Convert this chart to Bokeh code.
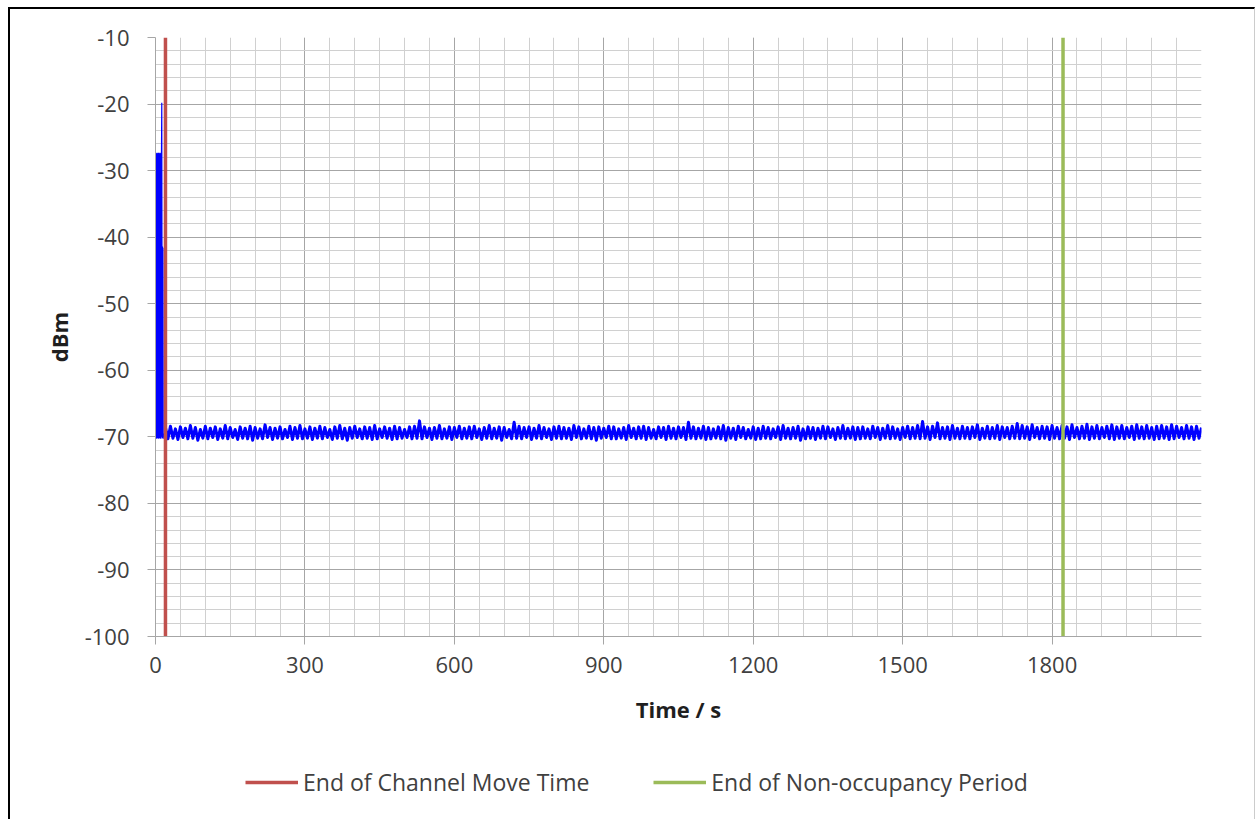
import numpy as np
from bokeh.plotting import figure
from bokeh.layouts import column
from bokeh.models import FixedTicker, Range1d, Legend, LegendItem
from bokeh.embed import file_html
from bokeh.resources import INLINE

# ---- data ----
x_ticks = [0, 300, 600, 900, 1200, 1500, 1800]
y_ticks = [-100, -90, -80, -70, -60, -50, -40, -30, -20, -10]
x_max = 2100
y_min, y_max = -100, -10

channel_move_end = 20      # s, red marker
non_occupancy_end = 1822   # s, green marker

# initial burst while the radar is still present (s, dBm)
burst_t = [0.5, 1.0, 1.5, 2.0, 2.5, 3.0, 3.5, 4.0, 4.5, 5.0, 5.5, 6.0, 6.5, 7.0, 7.5,
           8.0, 8.5, 9.0, 9.5, 10.0, 10.5, 11.0, 11.5, 12.0, 12.6, 13.0, 13.5, 14.0,
           14.5, 15.0, 15.5, 16.0]
burst_dbm = [-70.2, -27.4, -70.1, -27.5, -70.3, -27.3, -70.0, -27.4, -70.2, -27.5, -70.1,
             -27.3, -70.3, -27.4, -70.0, -27.5, -70.2, -27.3, -70.1, -27.4, -70.3, -27.5,
             -70.0, -27.4, -19.8, -41.5, -70.2, -41.4, -70.1, -41.6, -70.3, -69.5]

# noise floor after the channel move, sampled every 5 s from 20 s to 2100 s
noise_t0, noise_dt = 20, 5
noise_dbm = [
    -68.6, -70.3, -68.4, -70.2, -68.8, -70.4, -68.5, -70.1, -68.7, -70.3, -68.3, -70.2, -68.6, -70.5, -68.9, -70.2, -68.4, -70.3, -68.7, -70.1,
    -68.5, -70.4, -68.8, -70.2, -68.3, -70.3, -68.6, -70.1, -68.9, -70.4, -68.5, -70.2, -68.7, -70.3, -68.4, -70.5, -68.6, -70.2, -68.8, -70.3,
    -68.2, -70.1, -68.6, -70.4, -68.7, -70.2, -68.5, -70.3, -68.9, -70.1, -68.4, -70.4, -68.6, -70.2, -68.3, -70.3, -68.8, -70.2, -68.5, -70.4,
    -68.7, -70.2, -68.4, -70.3, -68.6, -70.1, -68.9, -70.4, -68.5, -70.2, -68.3, -70.3, -68.7, -70.5, -68.6, -70.2, -68.4, -70.1, -68.8, -70.3,
    -68.5, -70.2, -68.6, -70.4, -68.3, -70.3, -68.8, -70.1, -68.5, -70.2, -68.7, -70.4, -68.4, -70.3, -68.6, -70.2, -68.9, -70.1, -68.5, -70.3,
    -68.4, -70.2, -67.6, -70.3, -68.5, -70.1, -68.7, -70.4, -68.6, -70.2, -68.3, -70.3, -68.8, -70.2, -68.5, -70.4, -68.6, -70.1, -68.4, -70.3,
    -68.7, -70.2, -68.5, -70.3, -68.4, -70.1, -68.8, -70.4, -68.6, -70.2, -68.3, -70.3, -68.7, -70.2, -68.5, -70.5, -68.6, -70.1, -68.9, -70.3,
    -67.8, -70.2, -68.4, -70.3, -68.6, -70.1, -68.5, -70.4, -68.7, -70.2, -68.3, -70.3, -68.6, -70.1, -68.8, -70.4, -68.5, -70.2, -68.4, -70.3,
    -68.6, -70.2, -68.7, -70.4, -68.3, -70.1, -68.5, -70.3, -68.8, -70.2, -68.4, -70.3, -68.6, -70.5, -68.5, -70.2, -68.7, -70.1, -68.4, -70.3,
    -68.5, -70.3, -68.8, -70.2, -68.6, -70.4, -68.3, -70.1, -68.7, -70.3, -68.5, -70.2, -68.4, -70.4, -68.6, -70.2, -68.9, -70.3, -68.5, -70.1,
    -68.6, -70.4, -68.4, -70.2, -68.7, -70.3, -68.5, -70.1, -68.6, -70.4, -67.8, -70.2, -68.5, -70.3, -68.7, -70.2, -68.4, -70.4, -68.6, -70.3,
    -68.8, -70.2, -68.5, -70.3, -68.3, -70.5, -68.6, -70.2, -68.7, -70.4, -68.4, -70.1, -68.6, -70.3, -68.9, -70.2, -68.5, -70.4, -68.7, -70.3,
    -68.4, -70.2, -68.6, -70.3, -68.8, -70.1, -68.5, -70.4, -68.3, -70.2, -68.7, -70.3, -68.6, -70.2, -68.4, -70.5, -68.8, -70.3, -68.5, -70.2,
    -68.6, -70.4, -68.7, -70.2, -68.4, -70.3, -68.5, -70.1, -68.8, -70.4, -68.6, -70.2, -68.3, -70.3, -68.7, -70.2, -68.5, -70.4, -68.6, -70.3,
    -68.5, -70.2, -68.8, -70.3, -68.4, -70.1, -68.6, -70.4, -68.7, -70.2, -68.3, -70.3, -68.5, -70.2, -68.8, -70.4, -68.6, -70.1, -68.4, -70.3,
    -68.6, -70.2, -68.3, -70.3, -67.7, -70.2, -68.5, -70.4, -68.4, -70.1, -67.9, -70.3, -68.6, -70.2, -68.5, -70.4, -68.3, -70.2, -68.7, -70.3,
    -68.4, -70.2, -68.6, -70.3, -68.5, -70.1, -68.2, -70.4, -68.7, -70.2, -68.4, -70.3, -68.6, -70.2, -68.3, -70.4, -68.5, -70.1, -68.6, -70.3,
    -68.4, -70.2, -68.0, -70.3, -68.3, -70.2, -68.5, -70.4, -68.2, -70.1, -68.6, -70.3, -68.4, -70.2, -68.5, -70.4, -68.3, -70.2, -68.6, -70.3,
    -68.3, -70.2, -68.5, -70.4, -68.2, -70.1, -68.6, -70.3, -68.4, -70.2, -68.1, -70.4, -68.5, -70.2, -68.3, -70.3, -68.6, -70.1, -68.4, -70.3,
    -68.2, -70.4, -68.5, -70.2, -68.3, -70.3, -68.6, -70.1, -68.4, -70.4, -68.2, -70.2, -68.5, -70.3, -68.3, -70.2, -68.6, -70.4, -68.4, -70.3,
    -68.3, -70.2, -68.5, -70.4, -68.2, -70.3, -68.4, -70.1, -68.6, -70.3, -68.3, -70.2, -68.5, -70.4, -68.4, -70.2, -68.6,
]

legend_labels = ["End of Channel Move Time", "End of Non-occupancy Period"]

noise_t = list(noise_t0 + noise_dt * np.arange(len(noise_dbm)))

# ---- styling ----
FONT = "Open Sans"
TICK_COLOR = "#404040"
TITLE_COLOR = "#1f1f1f"
RED = "#c0504d"
GREEN = "#9bbb59"

p = figure(width=1244, height=740, output_backend="svg", toolbar_location=None,
           x_range=Range1d(0, x_max), y_range=Range1d(y_min, y_max))
p.min_border_left = 145
p.min_border_right = 53
p.min_border_top = 28
p.min_border_bottom = 113
p.outline_line_color = None
p.background_fill_color = "white"
p.border_fill_color = "white"

p.xaxis.ticker = FixedTicker(ticks=x_ticks, minor_ticks=list(range(0, x_max + 1, 50)))
p.yaxis.ticker = FixedTicker(ticks=y_ticks, minor_ticks=list(range(y_min, y_max + 1, 2)))
p.yaxis.major_label_overrides = {t: str(t) for t in y_ticks}

for ax in (p.xaxis[0], p.yaxis[0]):
    ax.axis_line_color = "#a6a6a6"
    ax.major_tick_line_color = "#a6a6a6"
    ax.major_tick_out = 8
    ax.major_tick_in = 0
    ax.minor_tick_line_color = None
    ax.major_label_text_font = FONT
    ax.major_label_text_font_size = "22px"
    ax.major_label_text_color = TICK_COLOR
    ax.axis_label_text_font = FONT
    ax.axis_label_text_font_size = "22px"
    ax.axis_label_text_font_style = "bold"
    ax.axis_label_text_color = TITLE_COLOR

p.xaxis.axis_label = "Time / s"
p.yaxis.axis_label = "dBm"
p.xaxis.major_label_standoff = 12
p.xaxis.axis_label_standoff = 18
p.yaxis.major_label_standoff = 18
p.yaxis.axis_label_standoff = 8

for g in (p.xgrid[0], p.ygrid[0]):
    g.grid_line_color = "#a6a6a6"
    g.grid_line_width = 1
    g.minor_grid_line_color = "#d0d0d0"
    g.minor_grid_line_width = 1

# data trace: noise floor (dense band) and the initial burst
p.line(noise_t, noise_dbm, line_color="#0000ff", line_width=3, line_join="round")
p.line(burst_t, burst_dbm, line_color="#0000ff", line_width=1.2)

# event markers
p.line([channel_move_end, channel_move_end], [y_min, y_max], line_color=RED, line_width=3.5)
p.line([non_occupancy_end, non_occupancy_end], [y_min, y_max], line_color=GREEN, line_width=3.5)

# legend strip under the chart (its frame is aligned with the chart's frame;
# the marker lines drawn here fall outside its 0..1 range and only feed the legend)
lg = figure(width=1244, height=70, output_backend="svg", toolbar_location=None,
            x_range=Range1d(0, 1), y_range=Range1d(0, 1))
lg.axis.visible = False
lg.grid.visible = False
lg.outline_line_color = None
lg.min_border = 0
lg.border_fill_color = "white"
lr = lg.line([channel_move_end, channel_move_end], [y_min, y_max], line_color=RED, line_width=3.5)
lgr = lg.line([non_occupancy_end, non_occupancy_end], [y_min, y_max], line_color=GREEN, line_width=3.5)
legend = Legend(items=[LegendItem(label=legend_labels[0], renderers=[lr]),
                       LegendItem(label=legend_labels[1], renderers=[lgr])],
                orientation="horizontal", location=(90, 21))
legend.label_text_font = FONT
legend.label_text_font_size = "23px"
legend.label_text_color = TICK_COLOR
legend.glyph_width = 53
legend.glyph_height = 30
legend.label_height = 30
legend.label_standoff = 5
legend.spacing = 64
legend.padding = 0
legend.margin = 0
legend.border_line_color = None
legend.background_fill_alpha = 0
lg.add_layout(legend, "center")

layout = column(p, lg, spacing=0)
layout.styles = {"margin-left": "8px", "margin-top": "7px",
                 "border-left": "2px solid black", "border-top": "2px solid black",
                 "border-right": "1px solid #cccccc"}

open("out.html", "w").write(file_html(layout, INLINE))
